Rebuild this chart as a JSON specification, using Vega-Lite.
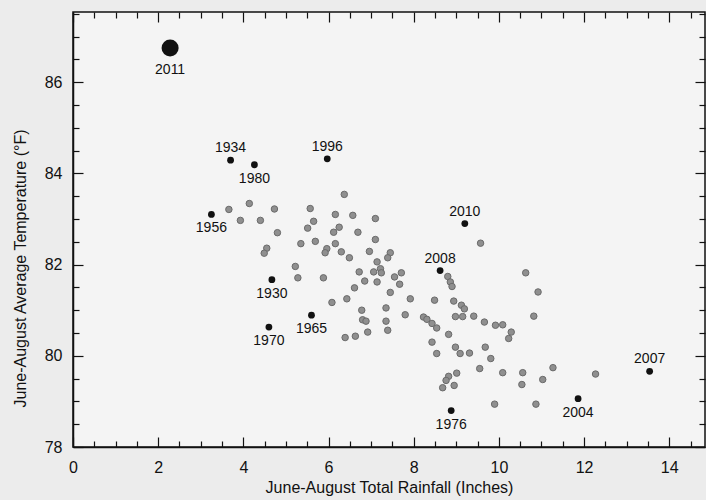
{
  "$schema": "https://vega.github.io/schema/vega-lite/v6.json",
  "width": 632,
  "height": 435,
  "autosize": {"type": "none"},
  "padding": {"left": 73, "top": 12, "right": 1, "bottom": 53},
  "background": "#ececec",
  "config": {
    "view": {"fill": "#f4f4f4", "stroke": "#111111", "strokeWidth": 1.5},
    "font": "Liberation Sans",
    "axis": {
      "labelFont": "Liberation Sans",
      "titleFont": "Liberation Sans",
      "labelColor": "#111111",
      "titleColor": "#111111",
      "domainColor": "#111111",
      "domainWidth": 1.5,
      "tickColor": "#111111",
      "tickWidth": 1.2,
      "grid": false,
      "labelFontSize": 16,
      "titleFontSize": 16,
      "titleFontWeight": "normal"
    }
  },
  "datasets": {
    "gray": [
      {"rain": 3.66, "temp": 83.21}, {"rain": 4.14, "temp": 83.34}, {"rain": 3.93, "temp": 82.97},
      {"rain": 4.40, "temp": 82.97}, {"rain": 4.73, "temp": 83.22}, {"rain": 4.80, "temp": 82.70},
      {"rain": 4.55, "temp": 82.36}, {"rain": 4.49, "temp": 82.25}, {"rain": 5.57, "temp": 83.23},
      {"rain": 5.65, "temp": 82.95}, {"rain": 5.51, "temp": 82.80}, {"rain": 5.35, "temp": 82.46},
      {"rain": 5.69, "temp": 82.51}, {"rain": 5.96, "temp": 82.35}, {"rain": 5.92, "temp": 82.26},
      {"rain": 5.22, "temp": 81.96}, {"rain": 5.28, "temp": 81.71}, {"rain": 5.88, "temp": 81.71},
      {"rain": 6.12, "temp": 82.71}, {"rain": 6.37, "temp": 83.54}, {"rain": 6.16, "temp": 83.10},
      {"rain": 6.57, "temp": 83.08}, {"rain": 7.10, "temp": 83.01}, {"rain": 6.25, "temp": 82.82},
      {"rain": 6.69, "temp": 82.71}, {"rain": 7.10, "temp": 82.55}, {"rain": 6.16, "temp": 82.46},
      {"rain": 6.30, "temp": 82.28}, {"rain": 6.49, "temp": 82.15}, {"rain": 6.96, "temp": 82.29},
      {"rain": 7.45, "temp": 82.26}, {"rain": 7.39, "temp": 82.15}, {"rain": 7.14, "temp": 82.06},
      {"rain": 7.22, "temp": 81.91}, {"rain": 7.06, "temp": 81.84}, {"rain": 7.24, "temp": 81.82},
      {"rain": 6.72, "temp": 81.84}, {"rain": 6.85, "temp": 81.64}, {"rain": 7.14, "temp": 81.62},
      {"rain": 7.55, "temp": 81.73}, {"rain": 7.71, "temp": 81.82}, {"rain": 7.67, "temp": 81.57},
      {"rain": 6.61, "temp": 81.49}, {"rain": 7.45, "temp": 81.39}, {"rain": 7.92, "temp": 81.25},
      {"rain": 8.49, "temp": 81.22}, {"rain": 6.08, "temp": 81.17}, {"rain": 6.43, "temp": 81.25},
      {"rain": 6.78, "temp": 81.00}, {"rain": 7.35, "temp": 81.05}, {"rain": 6.80, "temp": 80.79},
      {"rain": 6.88, "temp": 80.76}, {"rain": 7.35, "temp": 80.76}, {"rain": 7.39, "temp": 80.56},
      {"rain": 7.80, "temp": 80.90}, {"rain": 8.23, "temp": 80.85}, {"rain": 8.31, "temp": 80.80},
      {"rain": 8.43, "temp": 80.71}, {"rain": 8.54, "temp": 80.61}, {"rain": 6.92, "temp": 80.52},
      {"rain": 6.39, "temp": 80.40}, {"rain": 6.63, "temp": 80.43}, {"rain": 8.43, "temp": 80.30},
      {"rain": 8.54, "temp": 80.05}, {"rain": 8.80, "temp": 81.74}, {"rain": 8.86, "temp": 81.62},
      {"rain": 8.90, "temp": 81.52}, {"rain": 8.94, "temp": 81.20}, {"rain": 9.12, "temp": 81.11},
      {"rain": 9.19, "temp": 81.03}, {"rain": 8.98, "temp": 80.86}, {"rain": 9.15, "temp": 80.86},
      {"rain": 9.41, "temp": 80.87}, {"rain": 9.66, "temp": 80.74}, {"rain": 9.92, "temp": 80.67},
      {"rain": 10.09, "temp": 80.68}, {"rain": 10.29, "temp": 80.52}, {"rain": 10.23, "temp": 80.38},
      {"rain": 8.82, "temp": 80.47}, {"rain": 8.98, "temp": 80.19}, {"rain": 9.09, "temp": 80.05},
      {"rain": 9.31, "temp": 80.06}, {"rain": 9.68, "temp": 80.19}, {"rain": 9.81, "temp": 79.94},
      {"rain": 9.55, "temp": 79.72}, {"rain": 10.09, "temp": 79.63}, {"rain": 9.01, "temp": 79.62},
      {"rain": 8.82, "temp": 79.55}, {"rain": 8.76, "temp": 79.46}, {"rain": 8.95, "temp": 79.35},
      {"rain": 8.68, "temp": 79.30}, {"rain": 9.90, "temp": 78.94}, {"rain": 10.87, "temp": 78.94},
      {"rain": 10.56, "temp": 79.63}, {"rain": 10.54, "temp": 79.37}, {"rain": 11.03, "temp": 79.48},
      {"rain": 11.27, "temp": 79.74}, {"rain": 12.27, "temp": 79.60}, {"rain": 10.63, "temp": 81.82},
      {"rain": 10.92, "temp": 81.40}, {"rain": 10.82, "temp": 80.87}, {"rain": 9.57, "temp": 82.47}
    ],
    "black": [
      {"year": "2011", "rain": 2.28, "temp": 86.75},
      {"year": "1934", "rain": 3.70, "temp": 84.29},
      {"year": "1980", "rain": 4.26, "temp": 84.19},
      {"year": "1996", "rain": 5.97, "temp": 84.32},
      {"year": "1956", "rain": 3.25, "temp": 83.10},
      {"year": "2010", "rain": 9.20, "temp": 82.90},
      {"year": "2008", "rain": 8.62, "temp": 81.87},
      {"year": "1930", "rain": 4.67, "temp": 81.67},
      {"year": "1965", "rain": 5.60, "temp": 80.89},
      {"year": "1970", "rain": 4.60, "temp": 80.63},
      {"year": "2007", "rain": 13.54, "temp": 79.66},
      {"year": "2004", "rain": 11.86, "temp": 79.06},
      {"year": "1976", "rain": 8.88, "temp": 78.80}
    ]
  },
  "layer": [
    {
      "data": {"name": "gray"},
      "mark": {"type": "point", "filled": true, "fill": "#8f8f8f", "stroke": "#6a6a6a", "strokeWidth": 1, "opacity": 1, "size": 42},
      "encoding": {
        "x": {
          "field": "rain", "type": "quantitative",
          "scale": {"domain": [0, 14.84], "nice": false, "zero": false},
          "axis": {
            "orient": "bottom",
            "title": "June-August Total Rainfall (Inches)",
            "values": [0,0.5,1,1.5,2,2.5,3,3.5,4,4.5,5,5.5,6,6.5,7,7.5,8,8.5,9,9.5,10,10.5,11,11.5,12,12.5,13,13.5,14,14.5],
            "labelExpr": "datum.value % 2 === 0 ? format(datum.value, 'd') : ''",
            "tickSize": {"condition": {"test": "datum.value % 2 === 0", "value": -10}, "value": -6},
            "labelPadding": 22,
            "labelFlush": false,
            "labelOverlap": false,
            "titlePadding": 0
          }
        },
        "y": {
          "field": "temp", "type": "quantitative",
          "scale": {"domain": [78, 87.54], "nice": false, "zero": false},
          "axis": {
            "orient": "left",
            "title": "June-August Average Temperature (°F)",
            "values": [78,78.5,79,79.5,80,80.5,81,81.5,82,82.5,83,83.5,84,84.5,85,85.5,86,86.5,87,87.5],
            "labelExpr": "datum.value % 2 === 0 ? format(datum.value, 'd') : ''",
            "tickSize": {"condition": {"test": "datum.value % 2 === 0", "value": -10}, "value": -6},
            "labelPadding": 21,
            "labelFlush": false,
            "labelOverlap": false,
            "titleX": -53,
            "titleY": 256,
            "titleAngle": -90,
            "titleAlign": "center",
            "titleBaseline": "middle"
          }
        }
      }
    },
    {
      "data": {"name": "black"},
      "mark": {"type": "circle", "color": "#111111", "opacity": 1},
      "encoding": {
        "x": {
          "field": "rain", "type": "quantitative",
          "scale": {"domain": [0, 14.84], "nice": false, "zero": false},
          "axis": {
            "orient": "top", "title": null, "labels": false, "domain": false,
            "values": [0,0.5,1,1.5,2,2.5,3,3.5,4,4.5,5,5.5,6,6.5,7,7.5,8,8.5,9,9.5,10,10.5,11,11.5,12,12.5,13,13.5,14,14.5],
            "tickSize": {"condition": {"test": "datum.value % 2 === 0", "value": -10}, "value": -6}
          }
        },
        "y": {
          "field": "temp", "type": "quantitative",
          "scale": {"domain": [78, 87.54], "nice": false, "zero": false},
          "axis": {
            "orient": "right", "title": null, "labels": false, "domain": false,
            "values": [78,78.5,79,79.5,80,80.5,81,81.5,82,82.5,83,83.5,84,84.5,85,85.5,86,86.5,87,87.5],
            "tickSize": {"condition": {"test": "datum.value % 2 === 0", "value": -10}, "value": -6}
          }
        },
        "size": {"condition": {"test": "datum.year === '2011'", "value": 290}, "value": 46}
      }
    },
    {
      "data": {"name": "black"},
      "transform": [{"filter": {"field": "year", "oneOf": ["1934", "1996", "2010", "2008", "2007"]}}],
      "mark": {"type": "text", "dy": -12, "baseline": "middle", "align": "center", "fontSize": 14, "font": "Liberation Sans", "color": "#111111"},
      "encoding": {
        "x": {"field": "rain", "type": "quantitative", "axis": null},
        "y": {"field": "temp", "type": "quantitative", "axis": null},
        "text": {"field": "year"}
      }
    },
    {
      "data": {"name": "black"},
      "transform": [{"filter": {"field": "year", "oneOf": ["1980", "1956", "1930", "1965", "1970", "2004", "1976"]}}],
      "mark": {"type": "text", "dy": 14, "baseline": "middle", "align": "center", "fontSize": 14, "font": "Liberation Sans", "color": "#111111"},
      "encoding": {
        "x": {"field": "rain", "type": "quantitative", "axis": null},
        "y": {"field": "temp", "type": "quantitative", "axis": null},
        "text": {"field": "year"}
      }
    },
    {
      "data": {"name": "black"},
      "transform": [{"filter": {"field": "year", "equal": "2011"}}],
      "mark": {"type": "text", "dy": 22, "baseline": "middle", "align": "center", "fontSize": 14, "font": "Liberation Sans", "color": "#111111"},
      "encoding": {
        "x": {"field": "rain", "type": "quantitative", "axis": null},
        "y": {"field": "temp", "type": "quantitative", "axis": null},
        "text": {"field": "year"}
      }
    }
  ],
  "resolve": {"axis": {"x": "independent", "y": "independent"}}
}
